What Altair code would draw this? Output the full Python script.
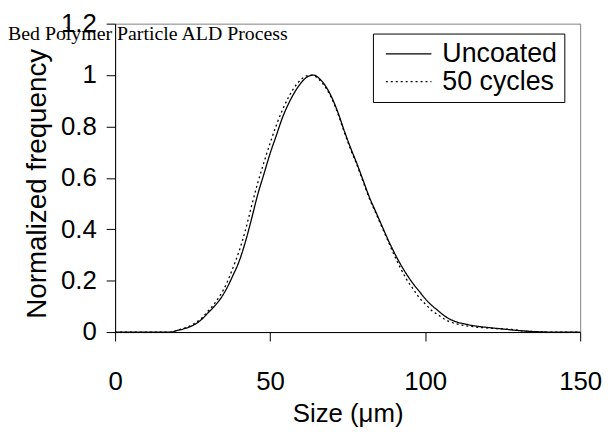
import altair as alt
import pandas as pd

title_text = "Bed Polymer Particle ALD Process"
series_names = ["Uncoated", "50 cycles"]
x_ticks = [0, 50, 100, 150]
y_ticks = [0, 0.2, 0.4, 0.6, 0.8, 1, 1.2]

uncoated_size = [0, 10, 18, 20, 22, 24, 26, 28, 30, 32, 34, 36, 38, 40, 42, 44, 46, 48, 50,
                 52, 54, 56, 58, 60, 62, 64, 66, 68, 70, 72, 74, 76, 78, 80, 82, 84, 86, 88,
                 90, 92, 94, 96, 98, 100, 102, 104, 106, 108, 110, 113, 116, 120, 125, 130,
                 135, 140, 150]
uncoated_freq = [0, 0, 0, 0.006, 0.012, 0.02, 0.032, 0.05, 0.075, 0.10, 0.13, 0.17, 0.22,
                 0.275, 0.35, 0.44, 0.535, 0.615, 0.695, 0.765, 0.835, 0.89, 0.935, 0.97,
                 0.993, 1.0, 0.985, 0.955, 0.91, 0.85, 0.78, 0.715, 0.655, 0.59, 0.525, 0.47,
                 0.415, 0.36, 0.31, 0.265, 0.225, 0.19, 0.16, 0.13, 0.105, 0.085, 0.065, 0.05,
                 0.04, 0.031, 0.024, 0.018, 0.012, 0.006, 0.002, 0, 0]

coated_size = [0, 10, 18, 20, 22, 24, 26, 28, 30, 32, 34, 36, 38, 40, 42, 44, 46, 48, 50,
               52, 54, 56, 58, 60, 62, 63.5, 66, 68, 70, 72, 74, 76, 78, 80, 82, 84, 86, 88,
               90, 92, 94, 96, 98, 100, 102, 104, 106, 108, 110, 113, 116, 120, 125, 128,
               132, 136, 140, 150]
coated_freq = [0, 0, 0, 0.007, 0.014, 0.023, 0.036, 0.055, 0.082, 0.11, 0.145, 0.19, 0.25,
               0.315, 0.395, 0.49, 0.58, 0.66, 0.735, 0.805, 0.865, 0.915, 0.955, 0.983,
               0.998, 1.0, 0.98, 0.95, 0.905, 0.845, 0.775, 0.71, 0.65, 0.585, 0.52, 0.465,
               0.41, 0.355, 0.30, 0.25, 0.205, 0.17, 0.135, 0.11, 0.085, 0.068, 0.052, 0.04,
               0.032, 0.025, 0.02, 0.016, 0.012, 0.01, 0.004, 0.001, 0, 0]

df = pd.concat([
    pd.DataFrame({"size": uncoated_size, "freq": uncoated_freq, "series": series_names[0]}),
    pd.DataFrame({"size": coated_size, "freq": coated_freq, "series": series_names[1]}),
])

FONT = "Liberation Sans"

lines = alt.Chart(df).mark_line(color="black", strokeWidth=1.3, interpolate="monotone").encode(
    x=alt.X("size:Q",
            scale=alt.Scale(domain=[0, 150], nice=False, zero=False),
            axis=alt.Axis(values=x_ticks, title="Size (μm)", grid=False,
                          domainColor="black", tickColor="black", tickSize=9,
                          labelFont=FONT, labelFontSize=26, labelColor="black",
                          labelPadding=28, labelFlush=False, labelOverlap=False,
                          titleFont=FONT, titleFontSize=26, titleFontWeight="normal",
                          titleColor="black", titleY=90, titleBaseline="alphabetic")),
    y=alt.Y("freq:Q",
            scale=alt.Scale(domain=[0, 1.2], nice=False),
            axis=alt.Axis(values=y_ticks, format="~g", title="Normalized frequency",
                          grid=False, domainColor="black", tickColor="black", tickSize=9,
                          labelFont=FONT, labelFontSize=26, labelColor="black",
                          labelPadding=10, labelFlush=False, labelOverlap=False,
                          titleFont=FONT, titleFontSize=28, titleFontWeight="normal",
                          titleColor="black", titleAngle=270, titleX=-70, titleY=161,
                          titleAlign="center", titleBaseline="alphabetic")),
    strokeDash=alt.StrokeDash("series:N",
                              scale=alt.Scale(domain=series_names, range=[[1, 0], [2, 3]]),
                              legend=alt.Legend(title=None, orient="none", legendX=260,
                                                legendY=10, direction="vertical",
                                                fillColor="white", strokeColor="black",
                                                padding=7, labelFont=FONT, labelFontSize=27,
                                                labelColor="black", symbolType="stroke",
                                                symbolSize=2116, symbolStrokeWidth=1.3,
                                                symbolStrokeColor="black", clipHeight=27,
                                                rowPadding=0, labelOffset=10,
                                                symbolOffset=5)),
)

title_df = pd.DataFrame({"label": [title_text]})
title = alt.Chart(title_df).mark_text(
    align="left", baseline="alphabetic", font="Liberation Serif", fontSize=20, color="black"
).encode(x=alt.value(-108), y=alt.value(16), text="label:N")

chart = alt.layer(lines, title).properties(
    width=469, height=311,
    autosize=alt.AutoSizeParams(type="none"),
    padding={"left": 108, "top": 14, "right": 22, "bottom": 98},
).configure_view(stroke="#808080", strokeWidth=1)

chart.save("out.html", embed_options={"renderer": "svg", "actions": False})
